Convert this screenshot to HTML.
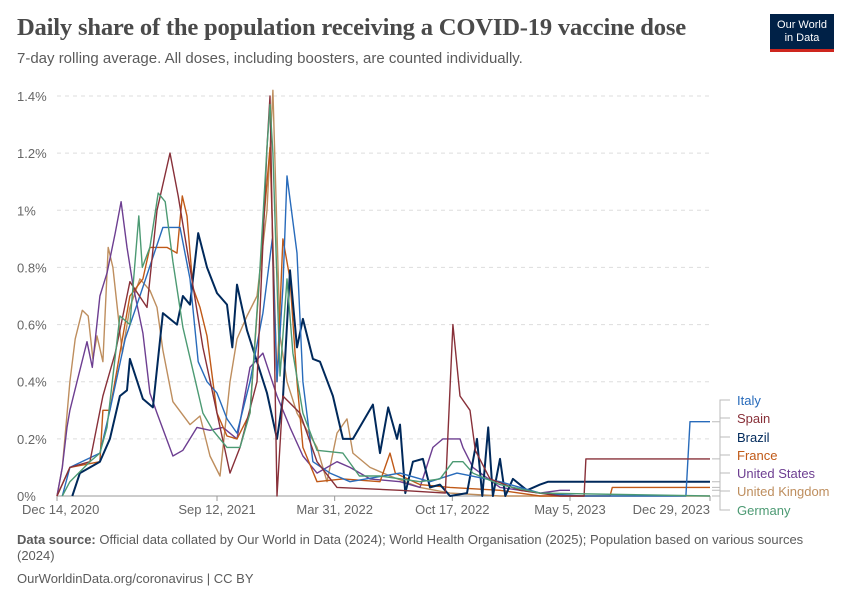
<!DOCTYPE html>
<html><head><meta charset="utf-8"><style>
body{margin:0;background:#fff;font-family:"Liberation Sans",sans-serif;}
#wrap{position:relative;width:850px;height:600px;overflow:hidden;}
.title{position:absolute;left:17px;top:14px;font-family:"Liberation Serif",serif;font-size:24.6px;color:#4a4a4a;font-weight:bold;letter-spacing:-0.2px}
.sub{position:absolute;left:17px;top:50px;font-size:15px;color:#5b5b5b}
.logo{position:absolute;left:770px;top:14px;width:64px;height:38px;background:#002147;color:#fff;font-size:11px;line-height:13px;text-align:center;padding-top:5px;box-sizing:border-box;border-bottom:3px solid #ce261e}
.src{position:absolute;left:17px;top:532px;width:800px;font-size:13px;color:#5b5b5b;line-height:16px}
.foot{position:absolute;left:17px;top:571px;font-size:13px;color:#5b5b5b}
</style></head><body>
<div id="wrap">
<div class="title">Daily share of the population receiving a COVID-19 vaccine dose</div>
<div class="sub">7-day rolling average. All doses, including boosters, are counted individually.</div>
<div class="logo">Our World<br>in Data</div>
<svg id="chart" width="850" height="600" style="position:absolute;left:0;top:0"></svg>
<div class="src"><b>Data source:</b> Official data collated by Our World in Data (2024); World Health Organisation (2025); Population based on various sources (2024)</div>
<div class="foot">OurWorldinData.org/coronavirus | CC BY</div>
</div>
<script>
const yTicks=[0,0.2,0.4,0.6,0.8,1,1.2,1.4];
const yTickLabels=["0%","0.2%","0.4%","0.6%","0.8%","1%","1.2%","1.4%"];
const xTickDays=[0,272,472,672,872,1110];
const xTickLabels=["Dec 14, 2020","Sep 12, 2021","Mar 31, 2022","Oct 17, 2022","May 5, 2023","Dec 29, 2023"];
const seriesNames=["Italy","Spain","Brazil","France","United States","United Kingdom","Germany"];
const italyDays=[9,22,73,90,116,141,180,209,226,240,255,272,289,306,328,350,366,374,384,391,408,418,435,464,498,583,634,680,753,821,889,1069,1076,1110];
const italyVals=[0,0.1,0.15,0.3,0.55,0.7,0.94,0.94,0.76,0.47,0.4,0.36,0.27,0.22,0.4,0.64,0.9,0.4,0.73,1.12,0.85,0.4,0.12,0.08,0.05,0.08,0.05,0.08,0.05,0.01,0,0,0.26,0.26];
const spainDays=[0,22,56,78,99,124,153,170,192,206,226,248,272,294,311,340,357,362,374,384,413,442,476,583,660,673,685,702,711,736,787,855,896,899,1110];
const spainVals=[0,0.1,0.12,0.35,0.5,0.75,0.66,1.0,1.2,1.05,0.8,0.52,0.29,0.08,0.17,0.4,1.22,1.4,0.0,0.35,0.29,0.12,0.03,0.02,0.01,0.6,0.35,0.3,0.16,0.06,0.02,0,0,0.13,0.13];
const brazilDays=[26,39,73,90,107,119,124,146,163,180,204,214,226,240,255,272,289,298,306,323,340,357,374,384,396,408,418,435,447,469,486,503,537,549,563,578,583,592,605,622,634,651,668,697,714,723,733,741,753,762,775,799,821,835,1110];
const brazilVals=[0,0.08,0.12,0.2,0.35,0.37,0.48,0.34,0.31,0.64,0.6,0.7,0.67,0.92,0.8,0.71,0.67,0.52,0.74,0.58,0.47,0.36,0.2,0.34,0.79,0.52,0.62,0.48,0.47,0.35,0.2,0.2,0.32,0.15,0.31,0.2,0.25,0.01,0.12,0.13,0.03,0.04,0,0.01,0.2,0,0.24,0,0.13,0,0.06,0.02,0.04,0.05,0.05];
const franceDays=[0,22,73,78,90,124,146,158,187,204,213,221,231,243,255,272,289,306,328,350,362,374,384,396,408,418,442,486,549,566,575,617,668,753,821,940,944,1110];
const franceVals=[0,0.1,0.12,0.3,0.3,0.7,0.76,0.87,0.87,0.85,1.05,0.98,0.73,0.66,0.56,0.29,0.21,0.2,0.29,0.93,1.22,0.4,0.9,0.76,0.4,0.17,0.05,0.06,0.05,0.15,0.08,0.04,0.03,0.02,0,0,0.03,0.03];
const usDays=[0,9,17,22,34,51,60,73,85,99,109,119,129,146,158,170,197,214,238,260,282,306,328,350,374,396,418,442,476,498,532,583,617,639,656,685,690,707,753,821,855,872];
const usVals=[0,0.1,0.24,0.3,0.4,0.54,0.45,0.7,0.78,0.92,1.03,0.87,0.74,0.57,0.36,0.29,0.14,0.16,0.24,0.23,0.24,0.2,0.45,0.5,0.35,0.24,0.14,0.08,0.12,0.1,0.06,0.05,0.03,0.17,0.2,0.2,0.17,0.1,0.03,0.01,0.02,0.02];
const ukDays=[0,9,22,31,43,53,61,68,78,87,95,104,111,124,141,158,170,180,197,226,243,260,277,294,306,323,340,357,367,379,391,408,442,459,476,493,503,532,566,617,668,753,1110];
const ukVals=[0,0.1,0.4,0.55,0.65,0.63,0.48,0.56,0.47,0.87,0.8,0.63,0.5,0.66,0.76,0.72,0.66,0.51,0.33,0.25,0.28,0.14,0.07,0.4,0.55,0.63,0.7,1.0,1.42,0.56,0.4,0.29,0.17,0.05,0.22,0.27,0.15,0.1,0.07,0.03,0.01,0,0];
const germanyDays=[9,22,56,73,85,107,124,139,145,158,172,184,197,214,231,248,265,289,311,328,345,357,362,367,379,391,401,418,442,486,514,549,617,651,673,690,707,753,821,1110];
const germanyVals=[0,0.05,0.12,0.15,0.24,0.63,0.6,0.98,0.8,0.87,1.06,1.03,0.82,0.59,0.44,0.29,0.23,0.17,0.17,0.29,0.8,1.22,1.37,1.2,0.42,0.76,0.5,0.29,0.16,0.15,0.07,0.07,0.05,0.06,0.12,0.12,0.08,0.04,0.01,0];

const NS="http://www.w3.org/2000/svg";
const svg=document.getElementById('chart');
const X0=57,X1=710,Y0=496,Y1=96;
function xs(d){return X0+(d/1110)*(X1-X0);}
function ys(v){return Y0-(v/1.4)*(Y0-Y1);}
function mk(t,a){const e=document.createElementNS(NS,t);for(const k in a)e.setAttribute(k,a[k]);svg.appendChild(e);return e;}

yTicks.forEach((v,i)=>{
  if(v>0){const g=mk('line',{x1:X0,x2:X1,y1:ys(v),y2:ys(v),stroke:'#ddd','stroke-dasharray':'4,4'});
  
  }
  const t=mk('text',{x:17,y:ys(v)+5,'font-size':13,fill:'#666','font-family':'Liberation Sans, sans-serif'});
  t.textContent=yTickLabels[i];
  
  
});
const ax=mk('line',{x1:X0,x2:X1,y1:Y0,y2:Y0,stroke:'#999'});


xTickDays.forEach((d,i)=>{
  const tk=mk('line',{x1:xs(d),x2:xs(d),y1:Y0,y2:Y0+5,stroke:'#999'});
  
  
  const anchor=i==0?'start':(i==xTickDays.length-1?'end':'middle');
  const xx=i==0?22:xs(d);
  const t=mk('text',{x:xx,y:514,'font-size':13,fill:'#666','text-anchor':anchor,'font-family':'Liberation Sans, sans-serif'});
  t.textContent=xTickLabels[i];
  
  
});

const series=[
 [italyDays,italyVals,'#286bbb',1.4],
 [spainDays,spainVals,'#883039',1.4],
 [brazilDays,brazilVals,'#00295b',2],
 [franceDays,franceVals,'#c05917',1.4],
 [usDays,usVals,'#6d3e91',1.4],
 [ukDays,ukVals,'#be8e5e',1.4],
 [germanyDays,germanyVals,'#4c9a73',1.4]];
const drawOrder=[5,4,3,2,0,1,6];
drawOrder.forEach(i=>{
  const [d,v,c,w]=series[i];
  const pts=d.map((dd,j)=>xs(dd).toFixed(1)+','+ys(v[j]).toFixed(1)).join(' ');
  const p=mk('polyline',{points:pts,fill:'none',stroke:c,'stroke-width':w,'stroke-linejoin':'round'});
  
  
});
const labelY=[404,422,441,459,477,495,514];
series.forEach((s,i)=>{
  const endY=ys(s[1][s[1].length-1]);
  const c=mk('polyline',{points:`${X1+2},${endY} ${X1+10},${endY} ${X1+10},${labelY[i]-4} ${X1+20},${labelY[i]-4}`,fill:'none',stroke:'#bbb','stroke-width':1});
  
  
  const t=mk('text',{x:737,y:labelY[i]+1,'font-size':13,fill:s[2],'font-family':'Liberation Sans, sans-serif'});
  t.textContent=seriesNames[i];
  
  
});
</script>
</body></html>
